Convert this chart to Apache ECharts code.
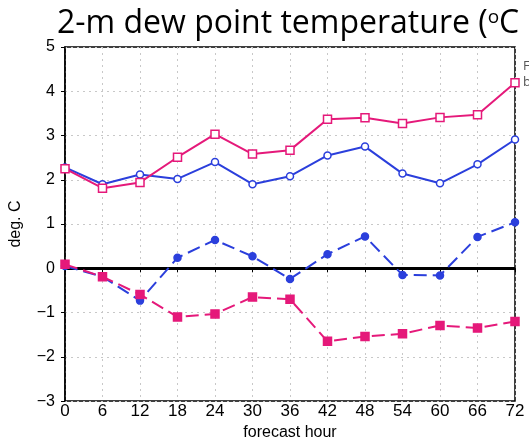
<!DOCTYPE html>
<html>
<head>
<meta charset="utf-8">
<script src="https://cdn.jsdelivr.net/npm/echarts@6/dist/echarts.min.js"></script>
<style>
  html, body { margin: 0; padding: 0; background: #fff; }
  #chart { width: 529px; height: 446px; }
</style>
</head>
<body>
<div id="chart"></div>
<script>
// forecast hours on the x axis
var hours = [0, 6, 12, 18, 24, 30, 36, 42, 48, 54, 60, 66, 72];
// solid lines (open markers)
var pinkSolid = [2.25, 1.81, 1.94, 2.51, 3.03, 2.58, 2.67, 3.37, 3.40, 3.27, 3.41, 3.47, 4.19];
var blueSolid = [2.28, 1.90, 2.12, 2.02, 2.40, 1.90, 2.08, 2.55, 2.75, 2.14, 1.92, 2.35, 2.91];
// dashed lines (filled markers)
var blueDashed = [0.05, -0.19, -0.73, 0.24, 0.64, 0.27, -0.24, 0.32, 0.72, -0.15, -0.16, 0.71, 1.04];
var pinkDashed = [0.09, -0.19, -0.59, -1.10, -1.03, -0.65, -0.70, -1.65, -1.54, -1.48, -1.29, -1.35, -1.20];

var PINK = "#e5197a";
var BLUE = "#2b3fdc";

function pairs(vals) {
  return hours.map(function (h, i) { return [h, vals[i]]; });
}

function makeSeries(vals, color, dashed, symbol, filled) {
  return {
    type: "line",
    data: pairs(vals),
    symbol: symbol,
    symbolSize: symbol === "rect" ? 8 : 7,
    showSymbol: true,
    itemStyle: {
      color: filled ? color : "#fff",
      borderColor: color,
      borderWidth: 1.5,
    },
    lineStyle: {
      color: color,
      width: 2,
      type: dashed ? [13, 6] : "solid",
    },
    z: 3,
  };
}

var chart = echarts.init(document.getElementById("chart"));
var axisText = { color: "#000", fontSize: 16, fontFamily: "Liberation Sans" };

var option = {
  animation: false,
  backgroundColor: "#fff",
  title: {
    text: "2-m dew point temperature ({sup|o}C",
    left: 52,
    top: 3,
    textStyle: {
      fontFamily: "Open Sans",
      fontSize: 32,
      fontWeight: "normal",
      color: "#000",
      rich: {
        sup: { fontFamily: "Open Sans", fontSize: 19, verticalAlign: "top", padding: [0, 0, 13, 0], color: "#000" },
      },
    },
  },
  graphic: [
    { type: "text", left: 523, top: 60, style: { text: "F", fontSize: 13, fontFamily: "Open Sans", fill: "#555" } },
    { type: "text", left: 523, top: 76, style: { text: "b", fontSize: 13, fontFamily: "Open Sans", fill: "#555" } },
  ],
  grid: {
    left: 62,
    right: 14,
    top: 47,
    bottom: 36,
    show: true,
    borderColor: "#000",
    borderWidth: 1.5,
  },
  xAxis: {
    type: "value",
    min: 0,
    max: 72,
    interval: 6,
    name: "forecast hour",
    nameLocation: "middle",
    nameGap: 19,
    nameTextStyle: axisText,
    axisLine: { show: true, lineStyle: { color: "#000", width: 1.5 } },
    axisTick: { show: true, length: 4, lineStyle: { color: "#000" } },
    axisLabel: Object.assign({ margin: 2 }, axisText, { fontSize: 17 }),
    splitLine: { show: true, lineStyle: { color: "#c8c8c8", type: [2, 4], width: 1 } },
  },
  yAxis: {
    type: "value",
    min: -3,
    max: 5,
    interval: 1,
    name: "deg. C",
    nameLocation: "middle",
    nameGap: 41,
    nameTextStyle: axisText,
    axisLine: { show: true, lineStyle: { color: "#000", width: 1.5 } },
    axisTick: { show: true, length: 4, lineStyle: { color: "#000" } },
    axisLabel: Object.assign({
      margin: 10,
      formatter: function (v) { return String(v).replace("-", "\u2212"); },
    }, axisText),
    splitLine: { show: true, lineStyle: { color: "#c8c8c8", type: [2, 4], width: 1 } },
  },
  series: [
    makeSeries(blueSolid, BLUE, false, "circle", false),
    makeSeries(pinkSolid, PINK, false, "rect", false),
    makeSeries(blueDashed, BLUE, true, "circle", true),
    Object.assign(makeSeries(pinkDashed, PINK, true, "rect", true), {
      markLine: {
        silent: true,
        symbol: "none",
        label: { show: false },
        lineStyle: { color: "#000", width: 3, type: "solid" },
        data: [{ yAxis: 0 }],
        z: 2,
      },
    }),
  ],
};

chart.setOption(option);
</script>
</body>
</html>
